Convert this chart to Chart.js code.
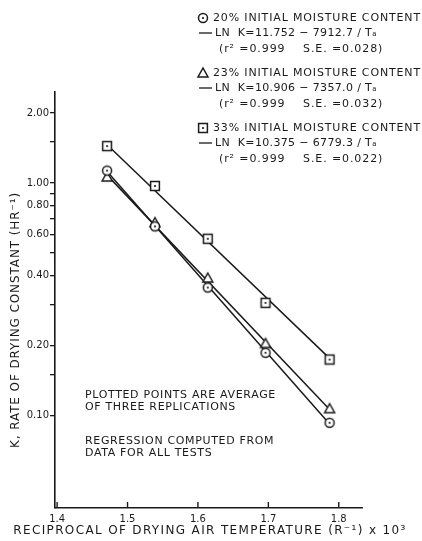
<!DOCTYPE html>
<html>
<head>
<meta charset="utf-8">
<script src="https://cdn.jsdelivr.net/npm/chart.js@4.4.1/dist/chart.umd.min.js"></script>
<style>
  html, body { margin: 0; padding: 0; background: #fff; }
  #wrap { width: 422px; height: 541px; position: relative; }
</style>
</head>
<body>
<div id="wrap"><canvas id="dryChart"></canvas></div>
<script>
// reciprocal drying air temperature (1/R x 10^3)
const recipTemp = [1.471, 1.539, 1.614, 1.696, 1.787];

// drying constant K (hr^-1) per initial moisture content
const k20 = [1.13, 0.65, 0.355, 0.186, 0.093];
const k23 = [1.06, 0.675, 0.39, 0.204, 0.107];
const k33 = [1.44, 0.97, 0.575, 0.305, 0.174];

// regression line end points
const fitX = [1.471, 1.787];
const fit20 = [1.12, 0.092];
const fit23 = [1.08, 0.106];
const fit33 = [1.46, 0.176];

const xTicks = [1.4, 1.5, 1.6, 1.7, 1.8];
const yTicks = [0.10, 0.15, 0.20, 0.30, 0.40, 0.50, 0.60, 0.70, 0.80, 0.90, 1.00, 1.50, 2.00];
const yLabelled = [0.10, 0.20, 0.40, 0.60, 0.80, 1.00, 2.00];

const legendRows = [
  { label: '20% INITIAL MOISTURE CONTENT', eq: 'LN  K=11.752 \u2212 7912.7 / T\u2090', stats: '(r\u00b2 =0.999    S.E. =0.028)' },
  { label: '23% INITIAL MOISTURE CONTENT', eq: 'LN  K=10.906 \u2212 7357.0 / T\u2090', stats: '(r\u00b2 =0.999    S.E. =0.032)' },
  { label: '33% INITIAL MOISTURE CONTENT', eq: 'LN  K=10.375 \u2212 6779.3 / T\u2090', stats: '(r\u00b2 =0.999    S.E. =0.022)' }
];
const notes = ['PLOTTED POINTS ARE AVERAGE', 'OF THREE REPLICATIONS', '', 'REGRESSION COMPUTED FROM', 'DATA FOR ALL TESTS'];

const INK = '#1a1a1a';
const FONT = '"DejaVu Sans", sans-serif';

function marker(shape) {
  const c = document.createElement('canvas');
  c.width = 14; c.height = 14;
  const g = c.getContext('2d');
  g.fillStyle = '#fff';
  g.strokeStyle = INK;
  g.lineWidth = 1.5;
  g.beginPath();
  if (shape === 'circle') g.arc(7, 7, 4.5, 0, Math.PI * 2);
  if (shape === 'square') g.rect(2.6, 2.6, 8.8, 8.8);
  if (shape === 'triangle') { g.moveTo(7, 2); g.lineTo(12, 11); g.lineTo(2, 11); g.closePath(); }
  g.fill(); g.stroke();
  if (shape !== 'triangle') {
    g.fillStyle = INK;
    g.beginPath(); g.arc(7, 7, 1.1, 0, Math.PI * 2); g.fill();
  }
  return c;
}
const mCircle = marker('circle');
const mTriangle = marker('triangle');
const mSquare = marker('square');
const legendMarkers = [mCircle, mTriangle, mSquare];

function pts(xs, ys) { return xs.map((x, i) => ({ x: x, y: ys[i] })); }

function pointSet(label, ys, img) {
  return { label: label, data: pts(recipTemp, ys), pointStyle: img, pointRadius: 6, showLine: false, order: 1 };
}
function lineSet(label, ys) {
  return { label: label, data: pts(fitX, ys), showLine: true, borderColor: INK, borderWidth: 1.5, pointRadius: 0, order: 2 };
}

function spaced(ctx, text, x, y, gap) {
  ctx.letterSpacing = gap + 'px';
  ctx.fillText(text, x, y);
  ctx.letterSpacing = '0px';
}

const annotate = {
  id: 'annotate',
  afterDraw(chart) {
    const ctx = chart.ctx;
    const xs = chart.scales.x;
    const area = chart.chartArea;
    ctx.save();
    ctx.strokeStyle = INK;
    ctx.fillStyle = INK;
    // inward ticks on the x axis
    ctx.lineWidth = 1.4;
    xTicks.forEach(v => {
      const px = xs.getPixelForValue(v);
      ctx.beginPath(); ctx.moveTo(px, area.bottom); ctx.lineTo(px, area.bottom - 6); ctx.stroke();
    });

    // legend block
    ctx.font = '11px ' + FONT;
    ctx.textBaseline = 'middle';
    ctx.textAlign = 'left';
    const legTop = [18, 73, 128];
    legendRows.forEach((r, i) => {
      const y = legTop[i];
      ctx.drawImage(legendMarkers[i], 196, y - 7);
      spaced(ctx, r.label, 213, y, 0.85);
      ctx.beginPath(); ctx.moveTo(199, y + 15); ctx.lineTo(212, y + 15); ctx.lineWidth = 1.3; ctx.stroke();
      spaced(ctx, r.eq, 215, y + 15, 0.35);
      spaced(ctx, r.stats, 219, y + 31, 0.9);
    });

    // notes in the plot
    notes.forEach((t, i) => { if (t) spaced(ctx, t, 85, 395 + i * 12 + (i > 2 ? 10 : 0), 0.65); });

    // axis titles
    ctx.font = '12px ' + FONT;
    ctx.textAlign = 'center';
    spaced(ctx, 'RECIPROCAL OF DRYING AIR TEMPERATURE (R\u207b\u00b9) x 10\u00b3', 210, 531, 1.35);
    ctx.translate(16, 320);
    ctx.rotate(-Math.PI / 2);
    spaced(ctx, 'K, RATE OF DRYING CONSTANT (HR\u207b\u00b9)', 0, 0, 0.9);
    ctx.restore();
  }
};

new Chart(document.getElementById('dryChart'), {
  type: 'scatter',
  data: {
    datasets: [
      pointSet('20% initial moisture content', k20, mCircle),
      pointSet('23% initial moisture content', k23, mTriangle),
      pointSet('33% initial moisture content', k33, mSquare),
      lineSet('20% fit', fit20),
      lineSet('23% fit', fit23),
      lineSet('33% fit', fit33)
    ]
  },
  plugins: [annotate],
  options: {
    responsive: true,
    maintainAspectRatio: false,
    animation: false,
    layout: { padding: { top: 92, right: 60, left: 0, bottom: 0 } },
    plugins: { legend: { display: false }, tooltip: { enabled: false } },
    scales: {
      x: {
        type: 'linear',
        min: 1.397,
        max: 1.833,
        afterBuildTicks: s => { s.ticks = xTicks.map(v => ({ value: v })); },
        afterFit: s => { s.height = 33; },
        grid: { display: false, drawTicks: false },
        border: { display: true, color: INK, width: 1.6 },
        ticks: { color: INK, font: { family: FONT, size: 10 }, padding: 5, callback: v => v.toFixed(1), maxRotation: 0 }
      },
      y: {
        type: 'logarithmic',
        min: 0.04,
        max: 2.46,
        afterBuildTicks: s => { s.ticks = yTicks.map(v => ({ value: v })); },
        afterFit: s => { s.width = 55; },
        grid: { drawOnChartArea: false, drawTicks: true, tickLength: 5, color: INK, lineWidth: 1.3 },
        border: { display: true, color: INK, width: 1.6 },
        ticks: {
          color: INK,
          font: { family: FONT, size: 10 },
          padding: 1,
          autoSkip: false,
          callback: v => yLabelled.some(t => Math.abs(t - v) < 1e-6) ? Number(v).toFixed(2) : ''
        }
      }
    }
  }
});
</script>
</body>
</html>
